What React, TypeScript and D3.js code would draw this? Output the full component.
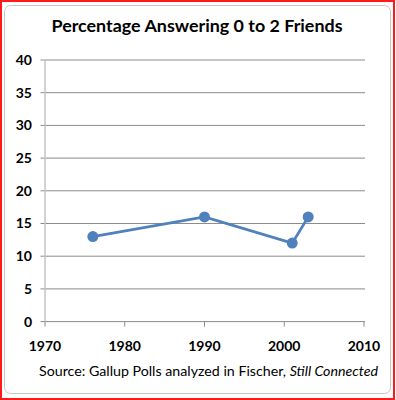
import React from "react";
import * as d3 from "d3";

// survey years and share answering 0-2 friends (%)
const years = [1976, 1990, 2001, 2003];
const percents = [13, 16, 12, 16];

const yTicks = [0, 5, 10, 15, 20, 25, 30, 35, 40];
const xTicks = [1970, 1980, 1990, 2000, 2010];

const title = "Percentage Answering 0 to 2 Friends";

const width = 396;
const height = 400;
const blue = "#4F81BD";

export default function App() {
  const x = d3.scaleLinear().domain([1970, 2010]).range([45, 364]);
  const y = d3.scaleLinear().domain([0, 40]).range([321.6, 60]);

  const points = years.map((yr, i) => ({ yr, v: percents[i] }));

  const line = d3
    .line<{ yr: number; v: number }>()
    .x(d => x(d.yr))
    .y(d => y(d.v));

  const font = "Lato, 'Open Sans', sans-serif";

  return (
    <svg
      width={width}
      height={height}
      style={{ position: "absolute", left: 0, top: 0 }}
      fontFamily={font}
    >
      {/* outer red frame */}
      <rect x={0} y={0} width={width} height={height} fill="white" />
      <rect x={1} y={1} width={width - 3} height={height - 2} fill="none" stroke="#ff1a1a" strokeWidth={2} />
      {/* chart area border */}
      <rect x={4.5} y={5.5} width={386} height={388} rx={6} fill="white" stroke="#c6c6c6" strokeWidth={1} />

      <text
        x={197}
        y={32}
        textAnchor="middle"
        fontSize={17}
        fontWeight="bold"
        textLength={291}
        lengthAdjust="spacingAndGlyphs"
      >
        {title}
      </text>

      {/* horizontal gridlines */}
      {yTicks.map(t => (
        <line
          key={"g" + t}
          x1={40.5}
          x2={365}
          y1={y(t)}
          y2={y(t)}
          stroke="#8c8c8c"
          strokeWidth={1}
        />
      ))}

      {/* vertical axis */}
      <line x1={45} x2={45} y1={60} y2={y(0)} stroke="#c4c4c4" strokeWidth={1.5} />

      {/* x axis ticks */}
      {xTicks.map(t => (
        <line
          key={"xt" + t}
          x1={x(t)}
          x2={x(t)}
          y1={y(0)}
          y2={y(0) + 5}
          stroke="#8c8c8c"
          strokeWidth={1}
        />
      ))}

      {yTicks.map(t => (
        <text
          key={"yl" + t}
          x={32}
          y={y(t)}
          dy="0.35em"
          textAnchor="end"
          fontSize={14}
          fontWeight="bold"
        >
          {t}
        </text>
      ))}

      {xTicks.map(t => (
        <text
          key={"xl" + t}
          x={x(t)}
          y={351}
          textAnchor="middle"
          fontSize={14}
          fontWeight="bold"
        >
          {t}
        </text>
      ))}

      <path d={line(points) || ""} fill="none" stroke={blue} strokeWidth={2.75} />
      {points.map(p => (
        <circle key={p.yr} cx={x(p.yr)} cy={y(p.v)} r={5.5} fill={blue} />
      ))}

      <text x={39} y={376} fontSize={14} textLength={339} lengthAdjust="spacingAndGlyphs">
        Source: Gallup Polls analyzed in Fischer, <tspan fontStyle="italic">Still Connected</tspan>
      </text>
    </svg>
  );
}
